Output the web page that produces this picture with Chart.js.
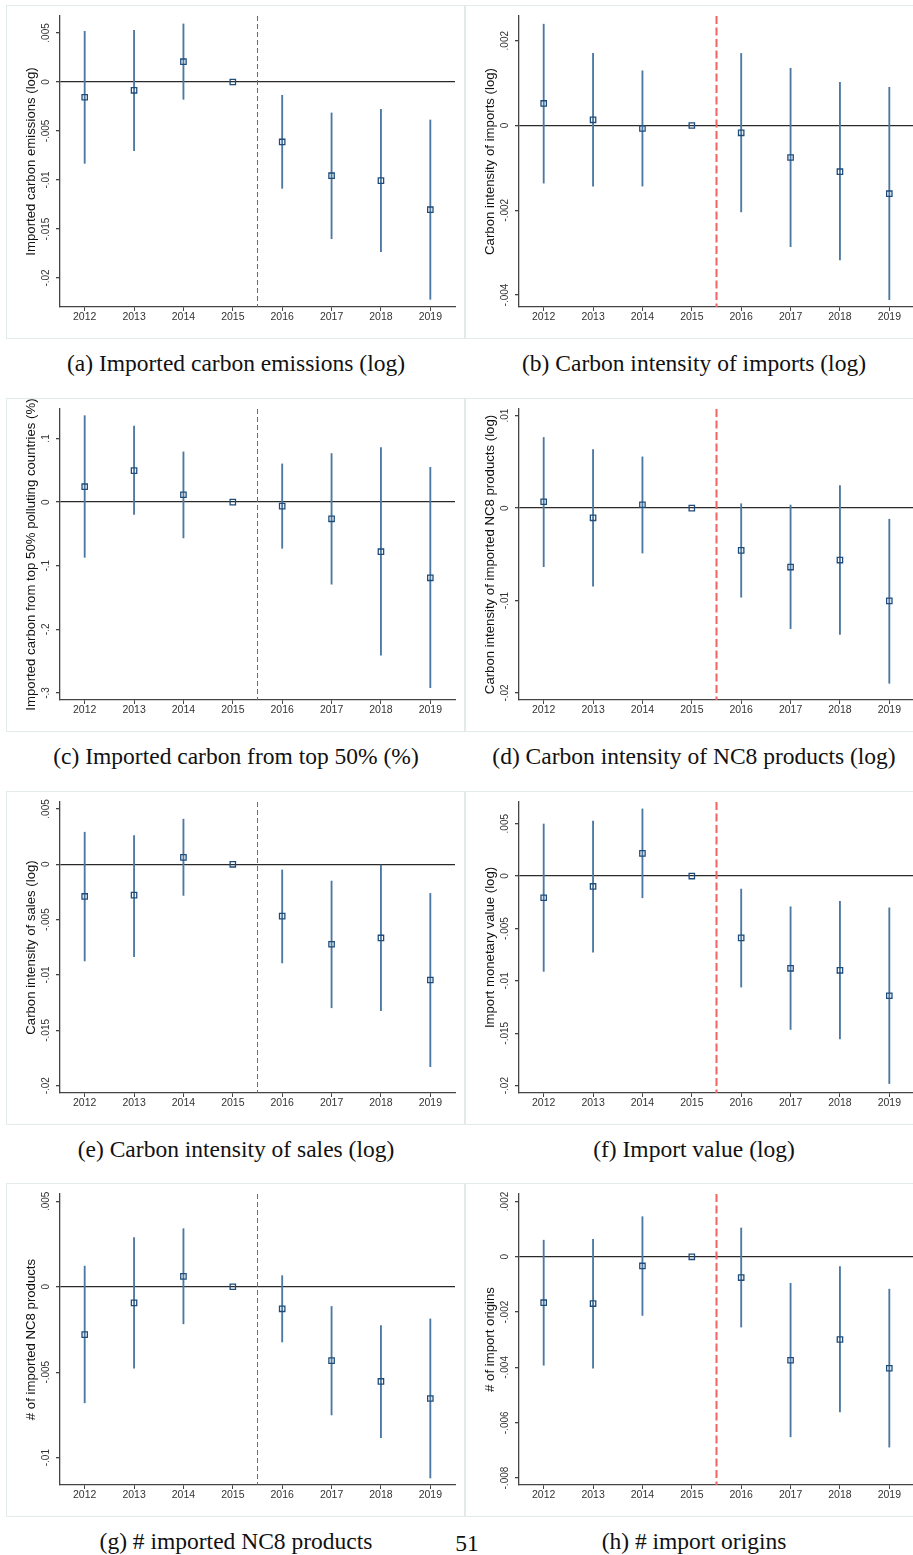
<!DOCTYPE html>
<html>
<head>
<meta charset="utf-8">
<script src="https://cdn.jsdelivr.net/npm/chart.js@4.4.1/dist/chart.umd.min.js"></script>
<style>
  body { margin: 0; background: #fff; width: 913px; height: 1555px; overflow: hidden; position: relative; }
  .frame { position: absolute; border: 1px solid #e2eaea; box-sizing: border-box; }
  .panel { position: absolute; }
  .cap { position: absolute; font-family: "Liberation Serif", "Times New Roman", serif; font-size: 23.5px; color: #111;
         white-space: nowrap; transform: translate(-50%, -50%); }
</style>
</head>
<body>
<script>
// event-study coefficients, 2015 = reference year
var years = ['2012', '2013', '2014', '2015', '2016', '2017', '2018', '2019'];

var coefA = [-0.00156, -0.00085, 0.00207, 0, -0.00612, -0.00956, -0.01007, -0.01303];
var loA   = [-0.0083, -0.0070, -0.00177, null, -0.01085, -0.01599, -0.01731, -0.02218];
var hiA   = [0.00517, 0.00527, 0.00592, null, -0.00136, -0.00316, -0.00279, -0.00388];
var ticksA = [0.005, 0, -0.005, -0.01, -0.015, -0.02];

var coefB = [0.00052, 0.000134, -0.000071, 0, -0.000173, -0.000756, -0.00109, -0.00161];
var loB   = [-0.00136, -0.00143, -0.00143, null, -0.00204, -0.00286, -0.00317, -0.00411];
var hiB   = [0.00239, 0.0017, 0.00129, null, 0.0017, 0.00135, 0.00102, 0.0009];
var ticksB = [0.002, 0, -0.002, -0.004];

var coefC = [0.0242, 0.0495, 0.0116, 0, -0.0063, -0.0263, -0.0779, -0.119];
var loC   = [-0.0868, -0.0195, -0.0563, null, -0.0726, -0.129, -0.2405, -0.2916];
var hiC   = [0.1358, 0.1195, 0.0789, null, 0.06, 0.0763, 0.0858, 0.0547];
var ticksC = [0.1, 0, -0.1, -0.2, -0.3];

var coefD = [0.00069, -0.00105, 0.00036, 0, -0.00457, -0.00638, -0.00562, -0.01004];
var loD   = [-0.00634, -0.00844, -0.00486, null, -0.00964, -0.01304, -0.01366, -0.01895];
var hiD   = [0.00764, 0.00634, 0.00554, null, 0.00047, 0.00033, 0.00243, -0.0012];
var ticksD = [0.01, 0, -0.01, -0.02];

var coefE = [-0.0029, -0.00278, 0.00063, 0, -0.00468, -0.00722, -0.00665, -0.01045];
var loE   = [-0.00873, -0.00834, -0.00281, null, -0.00891, -0.01296, -0.01323, -0.01828];
var hiE   = [0.0029, 0.0026, 0.00408, null, -0.00051, -0.00151, 0.0, -0.00263];
var ticksE = [0.005, 0, -0.005, -0.01, -0.015, -0.02];

var coefF = [-0.00207, -0.00099, 0.00217, 0, -0.0059, -0.0088, -0.00899, -0.01142];
var loF   = [-0.00909, -0.00727, -0.00207, null, -0.01059, -0.01464, -0.01553, -0.0198];
var hiF   = [0.00497, 0.00526, 0.00641, null, -0.00124, -0.00293, -0.00242, -0.00303];
var ticksF = [0.005, 0, -0.005, -0.01, -0.015, -0.02];

var coefG = [-0.0028, -0.00094, 0.00061, 0, -0.00129, -0.00432, -0.00554, -0.00654];
var loG   = [-0.00679, -0.00476, -0.00217, null, -0.00323, -0.0075, -0.00883, -0.01119];
var hiG   = [0.00121, 0.00288, 0.0034, null, 0.00065, -0.00115, -0.00227, -0.00188];
var ticksG = [0.005, 0, -0.005, -0.01];

var coefH = [-0.00166, -0.00169, -0.00033, 0, -0.00075, -0.00374, -0.00299, -0.00403];
var loH   = [-0.00392, -0.00403, -0.00212, null, -0.00254, -0.00651, -0.00561, -0.00688];
var hiH   = [0.0006, 0.00063, 0.00145, null, 0.00104, -0.00096, -0.00035, -0.00117];
var ticksH = [0.002, 0, -0.002, -0.004, -0.006, -0.008];

var panels = [
  { title: 'Imported carbon emissions (log)', caption: '(a) Imported carbon emissions (log)',
    coef: coefA, lo: loA, hi: hiA, ticks: ticksA, min: -0.02296, max: 0.00673 },
  { title: 'Carbon intensity of imports (log)', caption: '(b) Carbon intensity of imports (log)',
    coef: coefB, lo: loB, hi: hiB, ticks: ticksB, min: -0.004283, max: 0.002583 },
  { title: 'Imported carbon from top 50% polluting countries (%)', caption: '(c) Imported carbon from top 50% (%)',
    coef: coefC, lo: loC, hi: hiC, ticks: ticksC, min: -0.311, max: 0.1463 },
  { title: 'Carbon intensity of imported NC8 products (log)', caption: '(d) Carbon intensity of NC8 products (log)',
    coef: coefD, lo: loD, hi: hiD, ticks: ticksD, min: -0.02076, max: 0.01072 },
  { title: 'Carbon intensity of sales (log)', caption: '(e) Carbon intensity of sales (log)',
    coef: coefE, lo: loE, hi: hiE, ticks: ticksE, min: -0.02066, max: 0.00563 },
  { title: 'Import monetary value (log)', caption: '(f) Import value (log)',
    coef: coefF, lo: loF, hi: hiF, ticks: ticksF, min: -0.0207, max: 0.00707 },
  { title: '# of imported NC8 products', caption: '(g) # imported NC8 products',
    coef: coefG, lo: loG, hi: hiG, ticks: ticksG, min: -0.0116, max: 0.00543 },
  { title: '# of import origins', caption: '(h) # import origins',
    coef: coefH, lo: loH, hi: hiH, ticks: ticksH, min: -0.00825, max: 0.00227 }
];

var rowTop = [5, 398, 791, 1183];
var colLeft = [7, 466];
var capX = [236, 694];
var W = 457, H = 333;
var sans = '"Liberation Sans", Arial, sans-serif';

// stata-style labels: .005, -.01, 0
function fmt(v) {
  if (Math.abs(v) < 1e-12) return '0';
  var s = String(+Math.abs(v).toPrecision(6)).replace(/^0/, '');
  return (v < 0 ? '-' : '') + s;
}

var measure = document.createElement('canvas').getContext('2d');
function widest(labels, size) {
  measure.font = size + 'px ' + sans;
  return Math.max.apply(null, labels.map(function (l) { return measure.measureText(l).width; }));
}

// vertical dashed line between 2015 and 2016
var treatLine = {
  id: 'treatLine',
  beforeDatasetsDraw: function (chart, args, opts) {
    var x = chart.scales.x.getPixelForValue(3.5);
    var a = chart.chartArea, ctx = chart.ctx;
    ctx.save();
    ctx.strokeStyle = opts.color;
    ctx.lineWidth = opts.width;
    ctx.setLineDash(opts.dash);
    ctx.beginPath();
    ctx.moveTo(x, a.top);
    ctx.lineTo(x, a.bottom);
    ctx.stroke();
    ctx.restore();
  }
};

panels.forEach(function (p, i) {
  var col = i % 2, row = Math.floor(i / 2);
  var left = colLeft[col], top = rowTop[row];

  var fr = document.createElement('div');
  fr.className = 'frame';
  fr.style.left = (left - 1) + 'px';
  fr.style.top = top + 'px';
  fr.style.width = (col ? 460 : 459) + 'px';
  fr.style.height = '334px';
  document.body.appendChild(fr);

  var cv = document.createElement('canvas');
  cv.className = 'panel';
  cv.width = W; cv.height = H;
  cv.style.left = left + 'px';
  cv.style.top = top + 'px';
  cv.style.width = W + 'px'; cv.style.height = H + 'px';
  document.body.appendChild(cv);

  var cap = document.createElement('div');
  cap.className = 'cap';
  cap.textContent = p.caption;
  cap.style.left = capX[col] + 'px';
  cap.style.top = (top + 358) + 'px';
  document.body.appendChild(cap);

  var labels = p.ticks.map(fmt);
  var yPad = 13.5 - 4 - widest(labels, 10) / 2;

  new Chart(cv, {
    type: 'bar',
    data: {
      labels: years,
      datasets: [{
        type: 'line',
        data: p.coef,
        showLine: false,
        pointStyle: 'rect',
        pointRadius: 3.8,
        pointBorderWidth: 1.3,
        borderColor: '#1f4c7a',
        backgroundColor: 'rgba(0,0,0,0)',
        order: 0
      }, {
        type: 'bar',
        data: years.map(function (y, k) { return p.hi[k] == null ? null : [p.lo[k], p.hi[k]]; }),
        backgroundColor: '#4d78a3',
        barThickness: 1.2,
        borderWidth: 0,
        order: 1
      }]
    },
    options: {
      responsive: false,
      animation: false,
      devicePixelRatio: 1,
      layout: { padding: { top: 11, right: 9, left: 0, bottom: 0 } },
      plugins: {
        legend: { display: false },
        tooltip: { enabled: false },
        treatLine: col ? { color: '#f06464', width: 2, dash: [8, 3.5] } : { color: '#e23a2e', width: 1, dash: [5, 3] }
      },
      scales: {
        x: {
          offset: true,
          grid: { offset: false, drawOnChartArea: false, drawTicks: true, tickLength: 4, tickColor: '#444', tickWidth: 1 },
          border: { display: true, color: '#444', width: 1.3 },
          ticks: { color: '#333', font: { family: sans, size: 10.5 }, padding: 0, maxRotation: 0 },
          afterFit: function (s) { s.height = 31; }
        },
        y: {
          min: p.min,
          max: p.max,
          afterBuildTicks: function (s) { s.ticks = p.ticks.map(function (v) { return { value: v }; }); },
          grid: {
            drawOnChartArea: true,
            drawTicks: true,
            tickLength: 4,
            tickColor: '#444',
            lineWidth: 1.3,
            color: function (c) { return c.tick && Math.abs(c.tick.value) < 1e-12 ? '#2a2a2a' : 'rgba(0,0,0,0)'; }
          },
          border: { display: true, color: '#444', width: 1.3 },
          ticks: {
            color: '#333',
            font: { family: sans, size: 10 },
            minRotation: 90, maxRotation: 90,
            crossAlign: 'center',
            padding: yPad,
            callback: function (v) { return fmt(v); }
          },
          title: {
            display: true,
            text: p.title,
            color: '#111',
            font: { family: sans, size: 13.2 },
            padding: { top: 16.5, bottom: 0 }
          },
          afterFit: function (s) { s.width = 53; }
        }
      }
    },
    plugins: [treatLine]
  });
});

var page = document.createElement('div');
page.className = 'cap';
page.textContent = '51';
page.style.left = '467px';
page.style.top = '1543px';
document.body.appendChild(page);
</script>
</body>
</html>
